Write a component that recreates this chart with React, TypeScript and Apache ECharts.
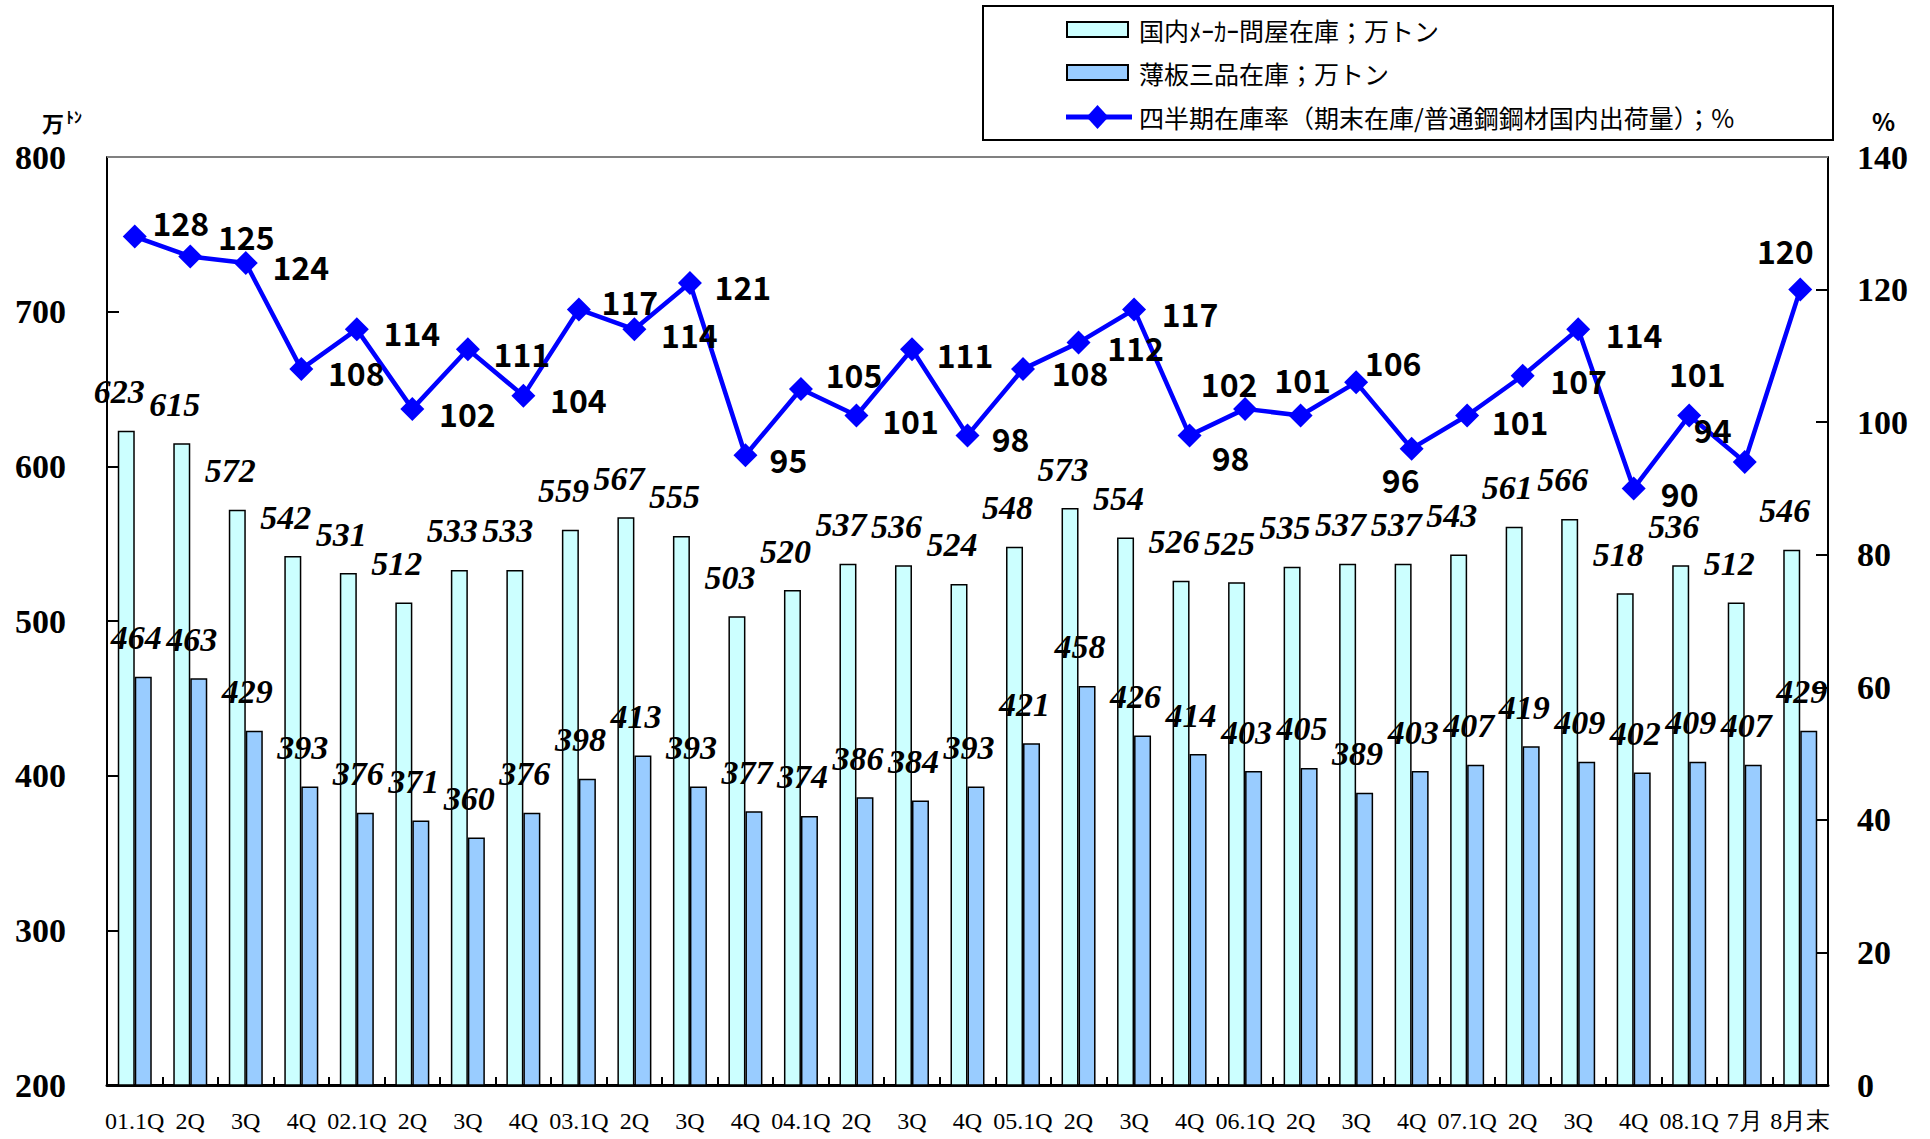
import React, { useEffect, useRef } from "react";
import * as echarts from "echarts";

// ---- data ----
const categories = [
  "01.1Q", "2Q", "3Q", "4Q",
  "02.1Q", "2Q", "3Q", "4Q",
  "03.1Q", "2Q", "3Q", "4Q",
  "04.1Q", "2Q", "3Q", "4Q",
  "05.1Q", "2Q", "3Q", "4Q",
  "06.1Q", "2Q", "3Q", "4Q",
  "07.1Q", "2Q", "3Q", "4Q",
  "08.1Q", "7月", "8月末",
];

const makerStock = [
  623, 615, 572, 542, 531, 512, 533, 533, 559, 567, 555, 503, 520, 537, 536, 524,
  548, 573, 554, 526, 525, 535, 537, 537, 543, 561, 566, 518, 536, 512, 546,
];

const sheetStock = [
  464, 463, 429, 393, 376, 371, 360, 376, 398, 413, 393, 377, 374, 386, 384, 393,
  421, 458, 426, 414, 403, 405, 389, 403, 407, 419, 409, 402, 409, 407, 429,
];

const stockRatio = [
  128, 125, 124, 108, 114, 102, 111, 104, 117, 114, 121, 95, 105, 101, 111, 98,
  108, 112, 117, 98, 102, 101, 106, 96, 101, 107, 114, 90, 101, 94, 120,
];

const leftTicks = { min: 200, max: 800, interval: 100 };
const rightTicks = { min: 0, max: 140, interval: 20 };

const seriesNames = [
  "国内ﾒｰｶｰ問屋在庫；万トン",
  "薄板三品在庫；万トン",
  "四半期在庫率（期末在庫/普通鋼鋼材国内出荷量）；%",
];

// ---- style: line label offsets (label centre relative to the point) ----
const ratioLabelOffsets: [number, number][] = [
  [46, -15], [56, -20], [55, 3], [55, 3], [55, 3], [55, 4], [54, 4], [55, 3],
  [51, -8], [55, 5], [53, 3], [43, 4], [53, -15], [54, 4], [53, 5], [43, 3],
  [57, 3], [57, 4], [56, 4], [41, 22], [-16, -26], [2, -37], [37, -20], [-11, 30],
  [53, 5], [56, 4], [56, 5], [46, 5], [8, -43], [-32, -33], [-15, -40],
];

const SERIF = "'Liberation Serif', 'Times New Roman', serif";
const GOTHIC = "'Noto Sans CJK JP', 'Noto Sans', sans-serif";

const GRID = { left: 107, right: 102, top: 157, bottom: 54 };
const W = 1930;
const H = 1139;

// legend layout (style only)
const LEG = { boxX: 983, boxY: 6, boxW: 850, boxH: 134, iconX: 1067, iconW: 61, iconH: 15, textX: 1139, rows: [29.5, 72.5, 117] };

export default function App() {
  const ref = useRef<HTMLDivElement>(null);

  useEffect(() => {
    document.body.style.margin = "0";
    document.body.style.overflow = "hidden";
    if (!ref.current) return;
    const chart = echarts.init(ref.current, undefined, { renderer: "svg" });

    const barLabel = {
      show: true,
      position: "top",
      distance: 22,
      offset: [-7, 0],
      fontFamily: SERIF,
      fontWeight: "bold",
      fontStyle: "italic",
      fontSize: 34,
      color: "#000",
    };

    const legendText = (i: number) => ({
      type: "text",
      z: 3,
      x: LEG.textX,
      y: LEG.rows[i],
      style: {
        text: seriesNames[i],
        fontFamily: GOTHIC,
        fontSize: 25,
        fill: "#000",
        verticalAlign: "middle",
        align: "left",
      },
    });

    const cy = LEG.rows[2];
    const cx = LEG.iconX + LEG.iconW / 2;

    const option = {
      animation: false,
      backgroundColor: "#fff",
      grid: { ...GRID, containLabel: false },
      xAxis: {
        type: "category",
        data: categories,
        boundaryGap: true,
        axisLine: { show: true, lineStyle: { color: "#000", width: 3 } },
        axisTick: { show: true, inside: true, length: 8, interval: 0, lineStyle: { color: "#000", width: 2 } },
        axisLabel: {
          interval: 0,
          margin: 24,
          fontFamily: SERIF,
          fontSize: 24,
          color: "#000",
        },
        splitLine: { show: false },
      },
      yAxis: [
        {
          type: "value",
          min: leftTicks.min,
          max: leftTicks.max,
          interval: leftTicks.interval,
          position: "left",
          axisLine: { show: true, lineStyle: { color: "#000", width: 2 } },
          axisTick: { show: true, inside: true, length: 12, lineStyle: { color: "#000", width: 2 } },
          axisLabel: {
            margin: 41,
            fontFamily: SERIF,
            fontWeight: "bold",
            fontSize: 34,
            color: "#000",
          },
          splitLine: { show: false },
        },
        {
          type: "value",
          min: rightTicks.min,
          max: rightTicks.max,
          interval: rightTicks.interval,
          position: "right",
          axisLine: { show: true, lineStyle: { color: "#000", width: 2 } },
          axisTick: { show: true, inside: true, length: 12, lineStyle: { color: "#000", width: 2 } },
          axisLabel: {
            margin: 29,
            fontFamily: SERIF,
            fontWeight: "bold",
            fontSize: 34,
            color: "#000",
          },
          splitLine: { show: false },
        },
      ],
      series: [
        {
          name: seriesNames[0],
          type: "bar",
          yAxisIndex: 0,
          data: makerStock,
          barWidth: 17,
          barGap: "0%",
          itemStyle: { color: "#CCFFFF", borderColor: "#000", borderWidth: 1.5 },
          label: barLabel,
          z: 2,
        },
        {
          name: seriesNames[1],
          type: "bar",
          yAxisIndex: 0,
          data: sheetStock,
          barWidth: 17,
          barGap: "0%",
          itemStyle: { color: "#99CCFF", borderColor: "#000", borderWidth: 1.5 },
          label: barLabel,
          z: 2,
        },
        {
          name: seriesNames[2],
          type: "line",
          yAxisIndex: 1,
          data: stockRatio.map((v, i) => ({
            value: v,
            label: { offset: ratioLabelOffsets[i] },
          })),
          symbol: "diamond",
          symbolSize: 24,
          lineStyle: { color: "#0000FF", width: 4.5 },
          itemStyle: { color: "#0000FF" },
          label: {
            show: true,
            position: "inside",
            align: "center",
            verticalAlign: "middle",
            fontFamily: GOTHIC,
            fontWeight: "bold",
            fontSize: 32,
            color: "#000",
          },
          z: 5,
        },
      ],
      graphic: [
        {
          type: "rect",
          z: 1,
          shape: { x: LEG.boxX, y: LEG.boxY, width: LEG.boxW, height: LEG.boxH },
          style: { fill: "#fff", stroke: "#000", lineWidth: 2 },
        },
        {
          type: "rect",
          z: 2,
          shape: { x: LEG.iconX, y: LEG.rows[0] - LEG.iconH / 2, width: LEG.iconW, height: LEG.iconH },
          style: { fill: "#CCFFFF", stroke: "#000", lineWidth: 2 },
        },
        {
          type: "rect",
          z: 2,
          shape: { x: LEG.iconX, y: LEG.rows[1] - LEG.iconH / 2, width: LEG.iconW, height: LEG.iconH },
          style: { fill: "#99CCFF", stroke: "#000", lineWidth: 2 },
        },
        {
          type: "line",
          z: 2,
          shape: { x1: LEG.iconX - 1, y1: cy, x2: LEG.iconX + LEG.iconW + 4, y2: cy },
          style: { stroke: "#0000FF", lineWidth: 5 },
        },
        {
          type: "polygon",
          z: 2,
          shape: { points: [[cx, cy - 12], [cx + 11, cy], [cx, cy + 12], [cx - 11, cy]] },
          style: { fill: "#0000FF" },
        },
        legendText(0),
        legendText(1),
        legendText(2),
        {
          type: "line",
          z: 1,
          shape: { x1: GRID.left, y1: GRID.top, x2: W - GRID.right, y2: GRID.top },
          style: { stroke: "#808080", lineWidth: 2 },
        },
        {
          type: "text",
          z: 3,
          x: 42,
          y: 111,
          style: { text: "万", fontFamily: GOTHIC, fontWeight: "bold", fontSize: 22, fill: "#000" },
        },
        {
          type: "text",
          z: 3,
          x: 66,
          y: 108,
          style: { text: "ﾄﾝ", fontFamily: GOTHIC, fontWeight: "bold", fontSize: 16, fill: "#000" },
        },
        {
          type: "text",
          z: 3,
          x: 1872,
          y: 108,
          style: { text: "%", fontFamily: GOTHIC, fontWeight: "bold", fontSize: 24, fill: "#000" },
        },
      ],
    };

    chart.setOption(option as any);
    return () => chart.dispose();
  }, []);

  return <div ref={ref} style={{ width: W, height: H }} />;
}
